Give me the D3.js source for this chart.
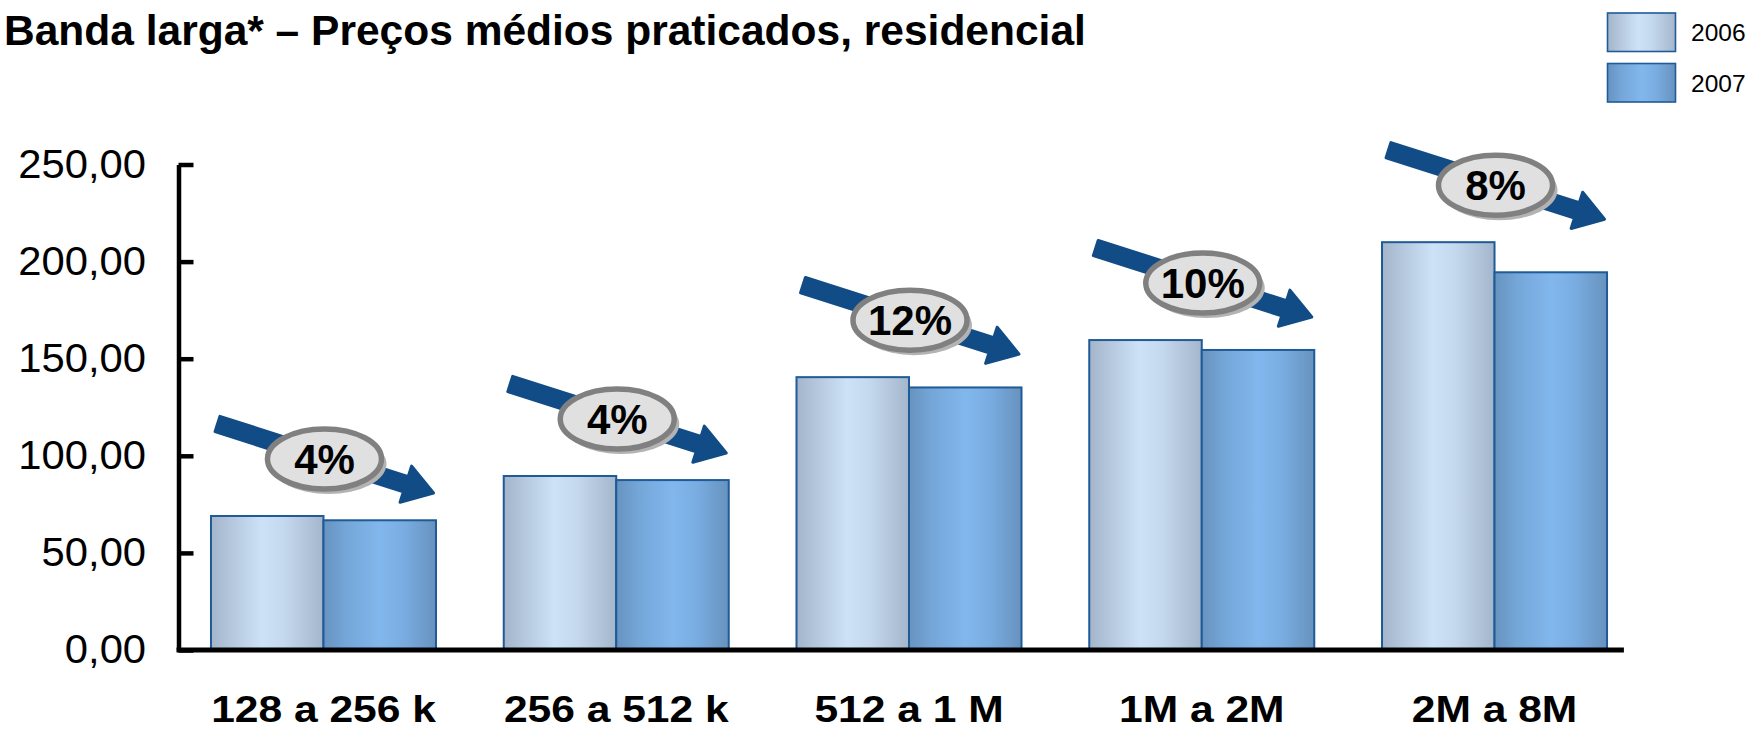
<!DOCTYPE html>
<html>
<head>
<meta charset="utf-8">
<script src="https://cdn.jsdelivr.net/npm/d3@7/dist/d3.min.js"></script>
<style>
  html, body { margin: 0; padding: 0; background: #fff; }
  svg { display: block; font-family: "Liberation Sans", Arial, sans-serif; }
</style>
</head>
<body>
<svg id="chart" width="1755" height="730"></svg>
<script>
// ---- data ----
const title = "Banda larga* – Preços médios praticados, residencial";
const categories = ["128 a 256 k", "256 a 512 k", "512 a 1 M", "1M a 2M", "2M a 8M"];
const seriesNames = ["2006", "2007"];
const values2006 = [69.0, 89.6, 140.5, 159.6, 210.0];
const values2007 = [66.8, 87.5, 135.2, 154.5, 194.5];
const dropLabels = ["4%", "4%", "12%", "10%", "8%"];
const yTicks = [0, 50, 100, 150, 200, 250];

const svg = d3.select("#chart");
const defs = svg.append("defs");

// gradients
function grad(id, stops) {
  const g = defs.append("linearGradient").attr("id", id)
    .attr("x1", "0%").attr("x2", "100%").attr("y1", "0%").attr("y2", "0%");
  stops.forEach(s => g.append("stop").attr("offset", s[0]).attr("stop-color", s[1]));
}
grad("g2006", [["0%", "#a4b5ca"], ["20%", "#b6c9df"], ["45%", "#cde2f7"], ["65%", "#c4d8ee"], ["100%", "#a4b6cb"]]);
grad("g2007", [["0%", "#6793c0"], ["20%", "#74a6d8"], ["50%", "#82b7ed"], ["70%", "#7aaee3"], ["100%", "#6792be"]]);
const fills = ["url(#g2006)", "url(#g2007)"];

// scales
const axisX = 178.5;
const x0 = d3.scaleBand().domain(categories)
  .range([177.1, 1640.9]).paddingInner(0.2314).paddingOuter(0.1157);
const x1 = d3.scaleBand().domain(seriesNames).range([0, x0.bandwidth()]).padding(0);
const y = d3.scaleLinear().domain([0, 250]).range([650, 164.5]);

// title
svg.append("text").attr("x", 4).attr("y", 45)
  .attr("font-size", 42.5).attr("font-weight", "bold").attr("fill", "#000")
  .text(title);

// legend
const leg = svg.append("g");
seriesNames.forEach((s, i) => {
  const gy = 13 + i * 50.5;
  leg.append("rect").attr("x", 1607.5).attr("y", gy).attr("width", 68).attr("height", 38.5)
    .attr("fill", fills[i]).attr("stroke", "#1f5b98").attr("stroke-width", 1.6);
  leg.append("text").attr("x", 1691).attr("y", gy + 19.5).attr("dy", "0.35em")
    .attr("font-size", 24.5).attr("fill", "#000").text(s);
});

// bars
const data = categories.map((c, i) => ({cat: c, vals: [values2006[i], values2007[i]], label: dropLabels[i]}));
const groups = svg.append("g").selectAll("g").data(data).join("g")
  .attr("transform", d => `translate(${x0(d.cat)},0)`);
groups.selectAll("rect").data(d => d.vals.map((v, j) => ({s: seriesNames[j], v, j}))).join("rect")
  .attr("x", d => x1(d.s)).attr("y", d => y(d.v))
  .attr("width", x1.bandwidth()).attr("height", d => y(0) - y(d.v))
  .attr("fill", d => fills[d.j]).attr("stroke", "#1f5b98").attr("stroke-width", 2);

// y axis
const yAxis = d3.axisLeft(y).tickValues(yTicks).tickSizeInner(-15).tickSizeOuter(0).tickPadding(31)
  .tickFormat(d => d3.format(".2f")(d).replace(".", ","));
const gy = svg.append("g").attr("transform", `translate(${axisX},0)`).call(yAxis);
gy.select(".domain").attr("stroke", "#000").attr("stroke-width", 4.5);
gy.selectAll(".tick line").attr("stroke", "#000").attr("stroke-width", 4.5);
gy.selectAll(".tick text").attr("font-size", 40).attr("fill", "#000")
  .attr("font-family", "'Liberation Sans', Arial, sans-serif")
  .attr("transform", "scale(1.045,1)");

// x axis
const xAxis = d3.axisBottom(x0).tickSize(0).tickPadding(46);
const gx = svg.append("g").attr("transform", `translate(0,${y(0)})`).call(xAxis);
gx.select(".domain").remove();
gx.selectAll(".tick text").attr("font-size", 37).attr("font-weight", "bold").attr("fill", "#000")
  .attr("font-family", "'Liberation Sans', Arial, sans-serif")
  .attr("transform", "scale(1.15,1)");
svg.append("line").attr("x1", axisX - 2).attr("x2", x0.range()[1] - 17)
  .attr("y1", y(0)).attr("y2", y(0)).attr("stroke", "#000").attr("stroke-width", 5);

// drop arrows with ellipse labels
const arrowColor = "#114c87";
const ann = svg.append("g").selectAll("g").data(data).join("g")
  .attr("transform", d => `translate(${x0(d.cat) + x0.bandwidth() / 2},${y(d.vals[0])})`);
const tail = [-106, -92], tip = [110, -23];
const ang = Math.atan2(tip[1] - tail[1], tip[0] - tail[0]) * 180 / Math.PI;
const L = Math.hypot(tip[0] - tail[0], tip[1] - tail[1]);
const hw = 8, hh = 19, hl = 29;
const arrowPath = `M0,${-hw} L${L - hl},${-hw} L${L - hl},${-hh} L${L},0 L${L - hl},${hh} L${L - hl},${hw} L0,${hw} Z`;
ann.append("path")
  .attr("transform", `translate(${tail[0]},${tail[1]}) rotate(${ang})`)
  .attr("d", arrowPath).attr("fill", arrowColor).attr("stroke", arrowColor)
  .attr("stroke-width", 3).attr("stroke-linejoin", "round");
const ec = [1, -57];
ann.append("ellipse").attr("cx", ec[0] + 4).attr("cy", ec[1] + 5).attr("rx", 58).attr("ry", 30)
  .attr("fill", "#b3b3b3");
ann.append("ellipse").attr("cx", ec[0]).attr("cy", ec[1]).attr("rx", 57).attr("ry", 30)
  .attr("fill", "#e0e0e0").attr("stroke", "#808080").attr("stroke-width", 5.5);
ann.append("text").attr("x", ec[0]).attr("y", ec[1]).attr("dy", "0.36em")
  .attr("text-anchor", "middle").attr("font-size", 42).attr("font-weight", "bold").attr("fill", "#000")
  .text(d => d.label);
</script>
</body>
</html>
